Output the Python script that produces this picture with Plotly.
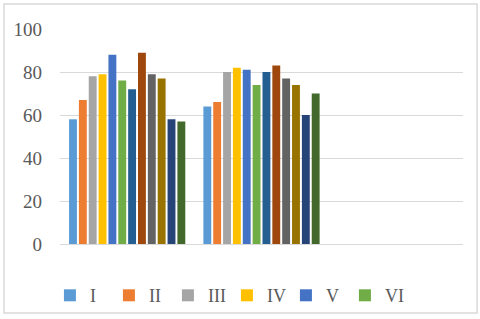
import plotly.graph_objects as go

categories = ["1", "2", "3"]
series_names = ["I", "II", "III", "IV", "V", "VI", "VII", "VIII", "IX", "X", "XI", "XII"]
values_cat1 = [58, 67, 78, 79, 88, 76, 72, 89, 79, 77, 58, 57]
values_cat2 = [64, 66, 80, 82, 81, 74, 80, 83, 77, 74, 60, 70]
values_cat3 = [None] * 12
y_ticks = [0, 20, 40, 60, 80, 100]
colors = ["#5B9BD5", "#ED7D31", "#A5A5A5", "#FFC000", "#4472C4", "#70AD47",
          "#255E91", "#9E480E", "#636363", "#997300", "#264478", "#43682B"]

fig = go.Figure()
for i, name in enumerate(series_names):
    fig.add_trace(go.Bar(
        x=categories,
        y=[values_cat1[i], values_cat2[i], values_cat3[i]],
        name=name,
        marker=dict(color=colors[i], line=dict(width=0)),
        showlegend=i < 6,
    ))

font_family = "Liberation Serif"
fig.update_layout(
    width=480, height=319,
    margin=dict(l=60, r=17, t=29, b=75, autoexpand=False),
    paper_bgcolor="white", plot_bgcolor="white",
    barmode="group", bargap=0.12, bargroupgap=0.2,
    font=dict(family=font_family, size=17, color="#595959"),
    xaxis=dict(type="category", range=[-0.5, 2.5], showticklabels=False,
               showgrid=False, zeroline=False, showline=False, ticks="",
               automargin=False),
    yaxis=dict(range=[0, 100], tickvals=y_ticks, showgrid=True,
               gridcolor="#D9D9D9", gridwidth=1, zeroline=True,
               zerolinecolor="#D9D9D9", zerolinewidth=1, showline=False,
               ticks="", ticklabelstandoff=17, automargin=False,
               tickfont=dict(family=font_family, size=19, color="#595959")),
    legend=dict(orientation="h", x=-0.025, xanchor="left", y=-0.24,
                yanchor="middle", font=dict(family=font_family, size=18, color="#595959"),
                itemwidth=30, traceorder="normal", entrywidth=14,
                entrywidthmode="pixels", bgcolor="rgba(0,0,0,0)"),
    shapes=[dict(type="rect", xref="paper", yref="paper",
                 x0=-0.139, x1=1.035, y0=-0.321, y1=1.116,
                 line=dict(color="#D9D9D9", width=1.5), fillcolor="rgba(0,0,0,0)",
                 layer="below")],
)

fig.write_html("out.html", config={"displayModeBar": False},
               post_script="document.body.style.margin='0px';")
